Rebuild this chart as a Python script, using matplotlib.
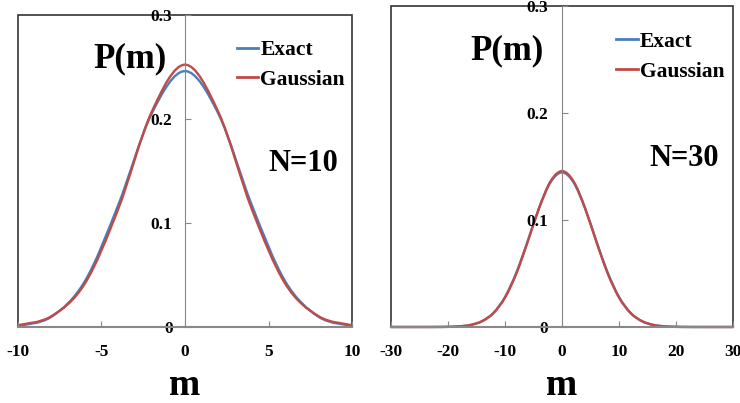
import matplotlib.pyplot as plt
from matplotlib.path import Path
from matplotlib.patches import PathPatch, Rectangle
from matplotlib.lines import Line2D

# data (even m only)
m10 = [-10, -8, -6, -4, -2, 0, 2, 4, 6, 8, 10]
exact10 = [0.0010, 0.0098, 0.0439, 0.1172, 0.2051, 0.2461, 0.2051, 0.1172, 0.0439, 0.0098, 0.0010]
gauss10 = [0.0017, 0.0103, 0.0417, 0.1134, 0.2066, 0.2523, 0.2066, 0.1134, 0.0417, 0.0103, 0.0017]

m30 = [-30, -28, -26, -24, -22, -20, -18, -16, -14, -12, -10, -8, -6, -4, -2, 0,
       2, 4, 6, 8, 10, 12, 14, 16, 18, 20, 22, 24, 26, 28, 30]
exact30 = [0.0, 0.0, 0.0, 0.0, 0.00003, 0.00013, 0.00055, 0.0019, 0.00545, 0.0133, 0.0280,
           0.0509, 0.0806, 0.1115, 0.1354, 0.1445, 0.1354, 0.1115, 0.0806, 0.0509, 0.0280,
           0.0133, 0.00545, 0.0019, 0.00055, 0.00013, 0.00003, 0.0, 0.0, 0.0, 0.0]
gauss30 = [0.0, 0.0, 0.0, 0.00001, 0.00005, 0.00019, 0.00066, 0.0020, 0.00555, 0.0132, 0.0275,
           0.0502, 0.0800, 0.1116, 0.1363, 0.1457, 0.1363, 0.1116, 0.0800, 0.0502, 0.0275,
           0.0132, 0.00555, 0.0020, 0.00066, 0.00019, 0.00005, 0.00001, 0.0, 0.0, 0.0]

BLUE = '#4a7ebb'
RED = '#be4b48'
SERIF = 'Liberation Serif'


def smooth_line(ax, xs, ys, color):
    # excel style smoothed line (catmull-rom as cubic bezier)
    verts = [(xs[0], ys[0])]
    codes = [Path.MOVETO]
    n = len(xs)
    for i in range(n - 1):
        x0, y0 = xs[max(i - 1, 0)], ys[max(i - 1, 0)]
        x1, y1 = xs[i], ys[i]
        x2, y2 = xs[i + 1], ys[i + 1]
        x3, y3 = xs[min(i + 2, n - 1)], ys[min(i + 2, n - 1)]
        c1 = (x1 + (x2 - x0) / 6, y1 + (y2 - y0) / 6)
        c2 = (x2 - (x3 - x1) / 6, y2 - (y3 - y1) / 6)
        verts += [c1, c2, (x2, y2)]
        codes += [Path.CURVE4] * 3
    ax.add_patch(PathPatch(Path(verts, codes), fill=False, ec=color, lw=1.7,
                           capstyle='round', joinstyle='round', clip_on=False))


def panel(ax, m, exact, gauss, xlim, xticks, ntext, pm_pos, n_pos, leg_anchor, ypad):
    smooth_line(ax, m, exact, BLUE)
    smooth_line(ax, m, gauss, RED)
    ax.set_xlim(*xlim)
    ax.set_ylim(0, 0.3)
    ax.spines['left'].set_position(('data', 0))
    ax.spines['left'].set_color('#888888')
    ax.spines['bottom'].set_color('#888888')
    ax.spines['bottom'].set_linewidth(1.5)
    ax.spines['right'].set_visible(False)
    ax.spines['top'].set_visible(False)
    ax.add_patch(Rectangle((0, 0), 1, 1, transform=ax.transAxes, fill=False,
                           ec='#333333', lw=1.2, clip_on=False, zorder=0))
    ax.set_yticks([0, 0.1, 0.2, 0.3])
    ax.set_yticklabels(['0', '0.1', '0.2', '0.3'])
    ax.set_xticks(xticks)
    ax.set_xticklabels([str(t) for t in xticks])
    ax.tick_params(axis='y', direction='in', length=4, color='#888888', pad=ypad)
    ax.tick_params(axis='x', direction='in', length=4, color='#888888', pad=12)
    for lab in ax.get_xticklabels() + ax.get_yticklabels():
        lab.set_fontfamily(SERIF)
        lab.set_fontweight('bold')
        lab.set_fontsize(12.5)
    ax.set_xlabel('m', fontfamily=SERIF, fontweight='bold', fontsize=27, labelpad=6)
    ax.text(pm_pos[0], pm_pos[1], 'P(m)', transform=ax.transAxes, fontfamily=SERIF,
            fontweight='bold', fontsize=25, ha='center', va='center')
    ax.text(n_pos[0], n_pos[1], ntext, transform=ax.transAxes, fontfamily=SERIF,
            fontweight='bold', fontsize=22, ha='center', va='center')
    handles = [Line2D([], [], color=BLUE, lw=2), Line2D([], [], color=RED, lw=2)]
    ax.legend(handles, ['Exact', 'Gaussian'], loc='upper left', bbox_to_anchor=leg_anchor,
              frameon=False, handlelength=1.0, handletextpad=0.1, labelspacing=0.45,
              borderaxespad=0, borderpad=0,
              prop={'family': SERIF, 'weight': 'bold', 'size': 15.5})


fig = plt.figure(figsize=(7.4, 4.03), dpi=100)
ax1 = fig.add_axes([0.0243, 0.1886, 0.4514, 0.774])
ax2 = fig.add_axes([0.5284, 0.1886, 0.4622, 0.7965])

panel(ax1, m10, exact10, gauss10, (-10, 10), [-10, -5, 0, 5, 10], 'N=10',
      (0.335, 0.86), (0.855, 0.525), (0.655, 0.92), 9)
panel(ax2, m30, exact30, gauss30, (-30, 30), [-30, -20, -10, 0, 10, 20, 30], 'N=30',
      (0.34, 0.86), (0.857, 0.525), (0.659, 0.92), 10)

fig.savefig('out.png', dpi=100)
